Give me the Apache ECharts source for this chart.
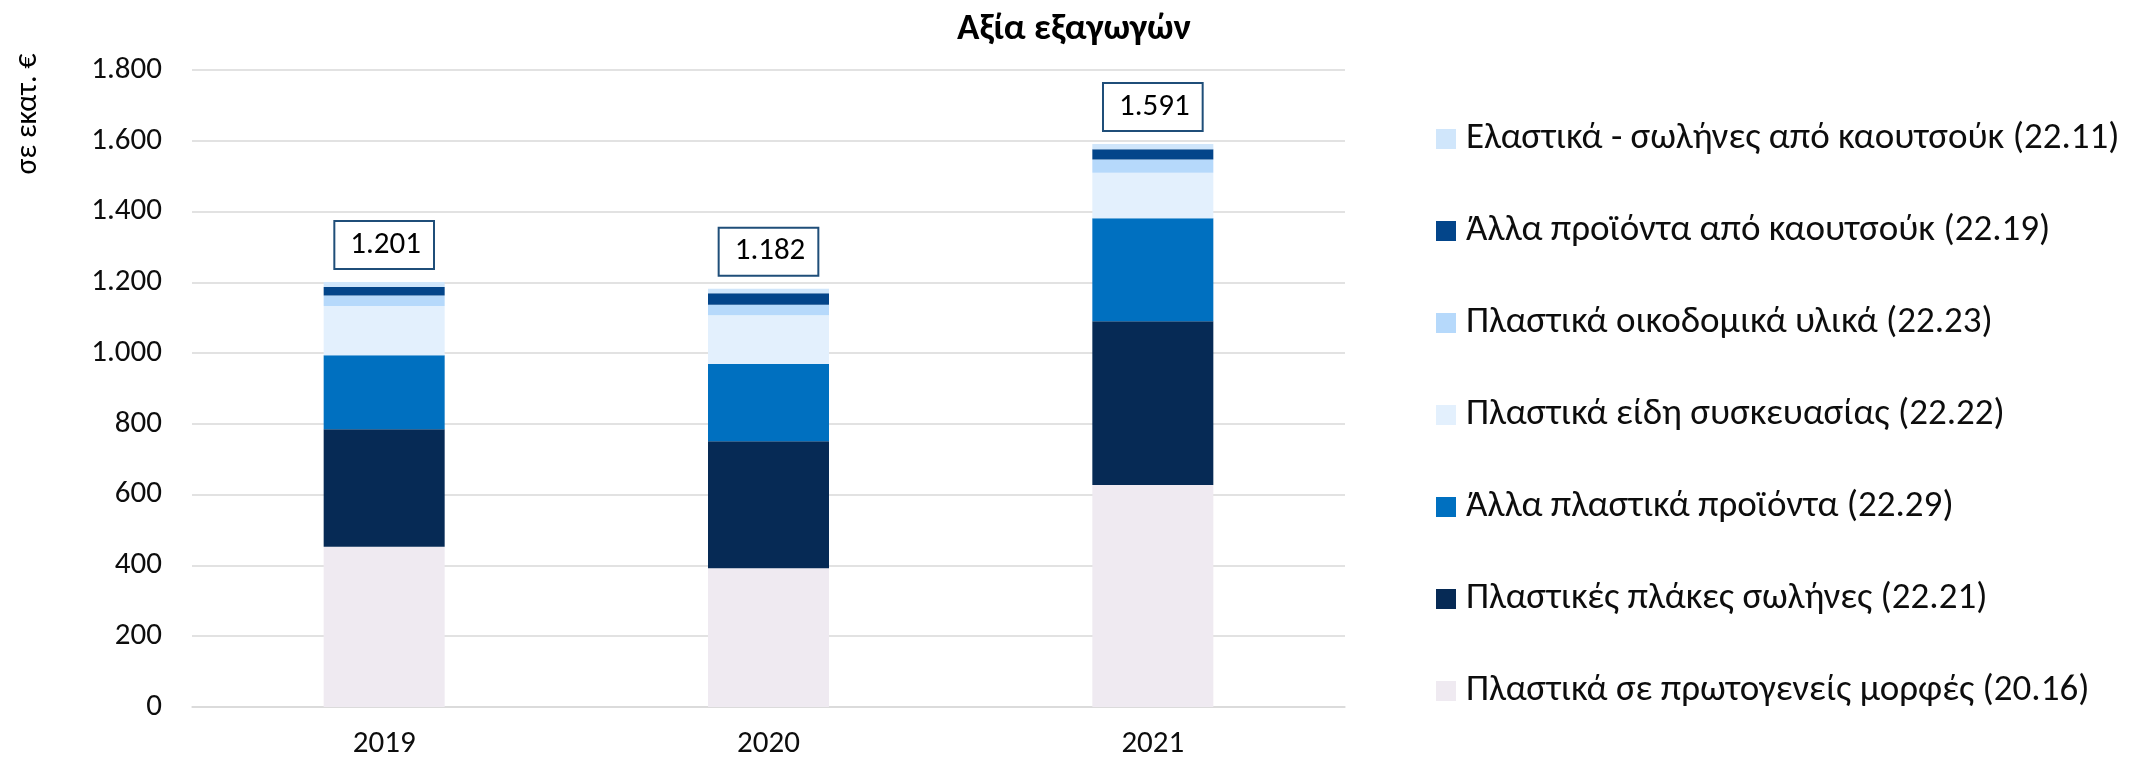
<!DOCTYPE html>
<html>
<head>
<meta charset="utf-8">
<script src="https://cdn.jsdelivr.net/npm/echarts@6/dist/echarts.min.js"></script>
<style>
  html, body { margin: 0; padding: 0; background: #fff; }
  #chart { width: 2145px; height: 761px; }
</style>
</head>
<body>
<div id="chart"></div>
<script>
// years on the x axis
var years = ['2019', '2020', '2021'];
// stacked segments, bottom to top (σε εκατ. €)
var primaryForms = [453, 392, 627];      // 20.16
var plasticPlates = [332, 359, 463];     // 22.21
var otherPlastics = [209, 218, 291];     // 22.29
var packaging = [139, 138, 129];         // 22.22
var buildingPlastics = [30, 30, 37];     // 22.23
var otherRubber = [24, 32, 29];          // 22.19
var rubberTubes = [14, 13, 15];          // 22.11
// totals shown in the boxes
var totals = [1201, 1182, 1591];

var names = [
	'Πλαστικά σε πρωτογενείς μορφές (20.16)',
	'Πλαστικές πλάκες σωλήνες (22.21)',
	'Άλλα πλαστικά προϊόντα (22.29)',
	'Πλαστικά είδη συσκευασίας (22.22)',
	'Πλαστικά οικοδομικά υλικά (22.23)',
	'Άλλα προϊόντα από καουτσούκ (22.19)',
	'Ελαστικά - σωλήνες από καουτσούκ (22.11)'
];
var colors = ['#efeaf1', '#062a55', '#0070c0', '#e3f0fd', '#b6d9fb', '#03458a', '#d0e6fb'];
var values = [primaryForms, plasticPlates, otherPlastics, packaging, buildingPlastics, otherRubber, rubberTubes];

var FONT = "Carlito, 'Noto Sans', sans-serif";

function fmtNum(v) {
	return String(v).replace(/\B(?=(\d{3})+(?!\d))/g, '.');
}

var series = [];
for (var i = 0; i < names.length; i++) {
	var s = {
		name: names[i],
		type: 'bar',
		stack: 'total',
		barWidth: 121,
		itemStyle: { color: colors[i] },
		data: values[i]
	};
	if (i == names.length - 1) {
		// total box sits on the top segment
		s.label = {
			show: true,
			position: 'top',
			distance: 14,
			formatter: function (p) { return fmtNum(totals[p.dataIndex]); },
			fontFamily: FONT,
			fontSize: 31,
			lineHeight: 34,
			color: '#000',
			backgroundColor: '#fff',
			borderColor: '#1f4e79',
			borderWidth: 2,
			padding: [6, 12, 6, 15]
		};
	}
	series.push(s);
}

var chart = echarts.init(document.getElementById('chart'));
chart.setOption({
	animation: false,
	backgroundColor: '#fff',
	title: {
		text: 'Αξία εξαγωγών',
		left: 952,
		top: 6,
		textStyle: { fontFamily: FONT, fontSize: 37, fontWeight: 'bold', color: '#000' }
	},
	grid: { left: 192, right: 800, top: 70, bottom: 54 },
	legend: {
		orient: 'vertical',
		left: 1431,
		top: 112,
		itemWidth: 20,
		itemHeight: 20,
		itemGap: 48,
		icon: 'rect',
		data: names.slice().reverse(),
		textStyle: { fontFamily: FONT, fontSize: 37, lineHeight: 44, color: '#0d0d0d', padding: [0, 0, 0, 5] }
	},
	xAxis: {
		type: 'category',
		data: years,
		axisTick: { show: false },
		axisLine: { lineStyle: { color: '#d9d9d9', width: 1.5 } },
		axisLabel: { fontFamily: FONT, fontSize: 31, color: '#0d0d0d', margin: 22 }
	},
	yAxis: {
		type: 'value',
		min: 0,
		max: 1800,
		interval: 200,
		axisLine: { show: false },
		axisTick: { show: false },
		splitLine: { lineStyle: { color: '#d9d9d9', width: 1.5 } },
		axisLabel: { fontFamily: FONT, fontSize: 31, color: '#0d0d0d', margin: 30, formatter: fmtNum }
	},
	graphic: [{
		type: 'text',
		x: 28,
		y: 114,
		rotation: Math.PI / 2,
		style: {
			text: 'σε εκατ. €',
			fontFamily: FONT,
			fontSize: 30,
			fill: '#000',
			textAlign: 'center',
			textVerticalAlign: 'middle'
		}
	}],
	series: series
});
</script>
</body>
</html>
